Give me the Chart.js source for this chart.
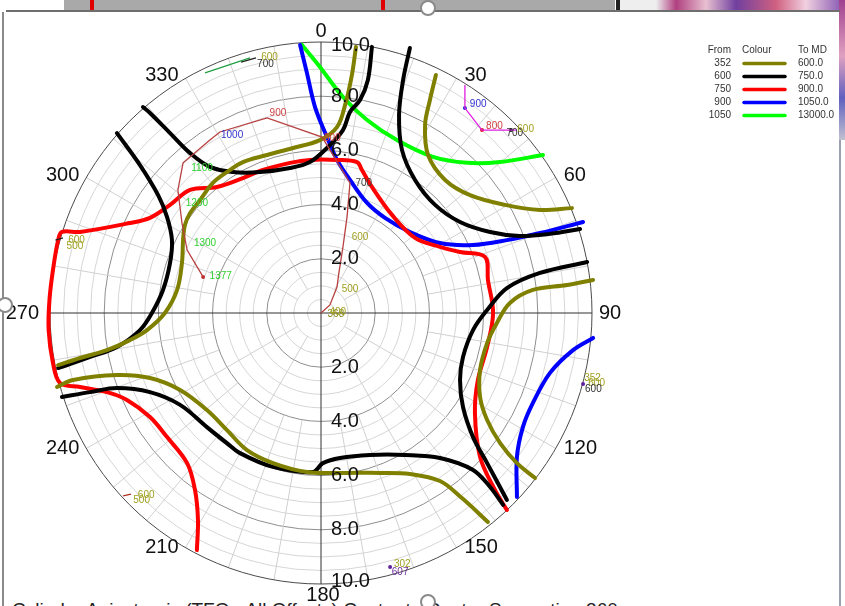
<!DOCTYPE html>
<html>
<head>
<meta charset="utf-8">
<title>Travelling Cylinder</title>
<script src="https://cdn.jsdelivr.net/npm/chart.js@4.4.1/dist/chart.umd.min.js"></script>
<style>
  body { margin: 0; width: 845px; height: 606px; overflow: hidden; background: #fff; position: relative;
         font-family: "Liberation Sans", Arial, sans-serif; }
  #strip { position: absolute; left: 64px; top: 0; width: 551px; height: 10px; background: #a9a9a9; }
  .mark { position: absolute; top: 0; width: 4px; height: 10px; background: #e00000; }
  #art { position: absolute; left: 616px; top: 0; width: 229px; height: 10px;
         background: linear-gradient(90deg, #222 0 4px, #eee 4px 40px, #b04080 60px, #e8c0d0 90px, #7040a0 120px, #d06080 160px, #f0d0e0 190px, #8050b0 229px); }
  #edge { position: absolute; left: 839px; top: 0; width: 6px; height: 140px;
          background: linear-gradient(180deg, #a04090, #e0a0c0 40%, #6060c0 70%, #c0c0d0); }
  #frameTop { position: absolute; left: 6px; top: 10px; width: 834px; height: 2px; background: #6e6e6e; }
  #frameLeft { position: absolute; left: 2px; top: 12px; width: 2px; height: 594px; background: #8a8a8a; }
  #frameRight { position: absolute; left: 839px; top: 140px; width: 2px; height: 466px; background: #9aa0b0; }
  .handle { position: absolute; width: 12px; height: 12px; border: 2px solid #8a8a8a; border-radius: 50%; background: #fff; }
  #caption { position: absolute; left: 12px; top: 599px; font-size: 19px; color: #222; white-space: nowrap; }
  canvas { position: absolute; left: 0; top: 0; }
</style>
</head>
<body>
<div id="strip"></div>
<div class="mark" style="left:90px"></div>
<div class="mark" style="left:381px"></div>
<div id="art"></div>
<div id="edge"></div>
<div id="frameTop"></div>
<div id="frameLeft"></div>
<div id="frameRight"></div>
<div id="caption">Cylinder Anisotropic (TFO - All Offsets) Centre to Centre Separation 360</div>
<canvas id="cylinderChart" width="845" height="606"></canvas>
<div class="handle" style="left:420px; top:0px"></div>
<div class="handle" style="left:-3px; top:297px"></div>
<div class="handle" style="left:420px; top:594px"></div>
<script>
  // Separation contours, [east, north] offsets in metres from the reference well
  const olive1 = [[1.29,9.82],[1.14,8.78],[0.89,7.68],[0.59,6.86],[-0.04,6.38],[-1.03,6.09],[-1.99,5.83],[-2.88,5.57],
    [-3.47,5.20],[-3.99,4.80],[-4.46,4.17],[-4.83,3.69],[-5.02,3.25],[-5.09,2.69],[-5.13,1.85],[-5.31,0.85],[-5.76,0],
    [-6.42,-0.63],[-7.05,-1.00],[-7.90,-1.37],[-8.89,-1.66],[-9.70,-1.92]];
  const olive2 = [[4.24,8.78],[4.02,7.86],[3.84,6.94],[3.95,5.83],[4.58,4.91],[5.50,4.35],[6.79,3.99],[8.08,3.80],[9.26,3.87]];
  const olive3 = [[10.04,1.22],[9.08,1.03],[7.82,0.85],[6.97,0.37],[6.49,-0.37],[6.13,-1.11],[5.87,-2.10],[5.87,-3.10],
    [6.13,-3.95],[6.61,-4.80],[7.23,-5.54],[7.90,-6.09]];
  const olive4 = [[-9.74,-2.73],[-9.15,-2.47],[-7.53,-2.29],[-6.31,-2.40],[-5.20,-2.84],[-4.21,-3.58],[-3.47,-4.32],
    [-2.73,-5.06],[-1.77,-5.54],[-0.52,-5.87],[0.70,-5.90],[2.18,-5.90],[3.28,-5.94],[4.39,-6.20],[5.20,-6.83],[6.16,-7.71]];
  const black1 = [[1.88,9.82],[1.73,8.60],[1.44,7.86],[1.07,7.42],[0.81,6.75],[0.22,6.09],[-0.41,5.57],[-1.14,5.35],
    [-2.25,5.20],[-3.25,5.20],[-4.10,5.39],[-4.83,5.90],[-5.57,6.64],[-6.31,7.38],[-6.57,7.60]];
  const black2 = [[-7.53,6.64],[-6.68,5.46],[-6.01,4.35],[-5.68,3.54],[-5.50,2.69],[-5.57,1.85],[-5.83,0.85],[-6.24,0],
    [-6.68,-0.63],[-7.53,-1.25],[-8.52,-1.62],[-9.70,-2.03]];
  const black3 = [[3.28,9.78],[3.03,8.60],[2.88,7.31],[2.99,6.01],[3.47,4.91],[4.21,3.99],[5.13,3.36],[6.24,2.99],
    [7.34,2.84],[8.45,2.92],[9.56,3.10]];
  const black4 = [[9.82,1.88],[8.08,1.48],[6.86,0.92],[6.13,0.11],[5.61,-0.63],[5.24,-1.62],[5.13,-2.47],[5.24,-3.47],
    [5.61,-4.58],[6.13,-5.54],[6.86,-6.90]];
  const black5 = [[-9.56,-3.10],[-8.52,-2.92],[-7.53,-2.77],[-6.31,-2.92],[-5.20,-3.39],[-4.21,-4.21],[-3.47,-4.80],
    [-2.99,-5.17],[-1.77,-5.68],[-0.30,-5.87],[0.07,-5.54],[0.70,-5.35],[1.81,-5.24],[3.10,-5.24],[4.39,-5.35],
    [5.61,-5.79],[6.24,-6.42],[6.72,-7.08]];
  const red1 = [[-4.58,-8.75],[-4.54,-7.64],[-4.65,-6.53],[-4.94,-5.54],[-5.68,-4.58],[-6.31,-3.84],[-7.16,-3.21],
    [-7.90,-2.92],[-8.89,-2.73],[-9.63,-2.58],[-9.89,-1.85],[-10.05,-0.63],[-10.02,0.48],[-9.89,1.59],[-9.70,2.69],
    [-9.56,2.99],[-8.89,2.99],[-7.05,3.32],[-6.31,3.51],[-5.57,3.99],[-4.83,4.54],[-3.84,4.65],[-2.88,4.98],[-2.14,5.28],
    [-1.14,5.54],[-0.41,5.65],[0.59,5.65],[1.33,5.57],[1.51,5.28],[1.88,4.65],[2.62,3.62],[3.47,2.77],[4.39,2.44],
    [5.13,2.25],[6.05,2.07],[6.16,1.22],[6.35,0],[6.13,-1.25],[5.79,-2.47],[5.68,-3.69],[5.87,-5.31],[6.42,-6.53],[6.86,-7.27]];
  const blue1 = [[-0.77,9.89],[-0.52,8.86],[-0.22,7.60],[0.22,6.49],[0.59,5.65],[1.07,4.91],[1.70,4.06],[2.36,3.51],
    [3.28,2.99],[4.39,2.58],[5.61,2.51],[6.86,2.69],[8.08,2.95],[9.67,3.36]];
  const blue2 = [[10.04,-0.92],[9.30,-1.37],[8.45,-2.21],[7.82,-3.32],[7.45,-4.21],[7.23,-5.31],[7.23,-6.79]];
  const green1 = [[-0.70,9.89],[-0.04,9.08],[0.81,7.97],[1.70,7.12],[2.80,6.38],[4.13,5.76],[5.39,5.54],[6.61,5.57],[8.19,5.83]];

  // Offset well traces near the reference well
  const wellPath = [[0,0],[0.33,0.30],[0.59,0.96],[0.66,1.48],[0.81,2.44],[0.96,3.54],[1.07,4.80],[0.04,6.49],
    [-1.99,7.20],[-3.73,6.68],[-4.10,6.38],[-5.09,5.54],[-5.28,4.54],[-5.13,3.32],[-4.94,2.32],[-4.35,1.33]];
  const magentaPath = [[5.31,8.41],[5.31,7.56],[5.94,6.75],[7.23,6.75]];
  const greenStub = [[-4.28,8.86],[-2.62,9.41]];
  const blackStubs = [[[-2.95,9.26],[-2.40,9.41]], [[-9.80,2.69],[-9.52,2.77]]];
  const redStub = [[-7.30,-6.75],[-7.01,-6.68]];

  const dots = [[5.31,7.56],[5.94,6.75],[7.01,6.75],[9.67,-2.62],[2.55,-9.37],[-4.35,1.33]];
  const dotColors = ['#2030d0','#e02020','#202020','#6020a0','#6020a0','#c03030'];

  // MD labels along the traces: text, east, north, colour
  const mdText = ['368','400','500','600','700','800','900','1000','1100','1200','1300','1377',
    '900','800','700','600','700','600','600','500','600','500','352','600','600','302','607'];
  const mdX = [0.55,0.62,1.07,1.44,1.58,0.42,-1.59,-3.28,-4.39,-4.58,-4.28,-3.70,
    5.80,6.40,7.15,7.55,-2.05,-1.90,-9.02,-9.08,-6.45,-6.62,10.02,10.17,10.05,3.00,2.92];
  const mdY = [-0.05,0.02,0.89,2.80,4.80,6.46,7.38,6.57,5.35,4.06,2.58,1.37,
    7.71,6.90,6.62,6.78,9.17,9.42,2.70,2.47,-6.72,-6.90,-2.40,-2.58,-2.80,-9.28,-9.55];
  const mdColor = ['#8a8a20','#a0a020','#a0a020','#a0a020','#404040','#d04040','#d04040','#3030d0','#30d030','#30d030','#30d030','#30d030',
    '#3030d0','#d04040','#303030','#a0a020','#303030','#a0a020','#a0a020','#a0a020','#a0a020','#a0a020','#a0a020','#a0a020','#303030','#a0a020','#7030a0'];

  // Ring and bearing ticks
  const ringValues = [2, 4, 6, 8, 10];
  const ringLabels = ['2.0', '4.0', '6.0', '8.0', '10.0'];
  const bearings = [0, 30, 60, 90, 120, 150, 180, 210, 240, 270, 300, 330];

  // Colour key: MD range per contour colour
  const keyFrom = ['352', '600', '750', '900', '1050'];
  const keyTo = ['600.0', '750.0', '900.0', '1050.0', '13000.0'];
  const keyColors = ['#808000', '#000000', '#ff0000', '#0000ff', '#00ff00'];

  const toXY = arr => arr.map(p => ({ x: p[0], y: p[1] }));

  function contour(arr, color) {
    return { data: toXY(arr), borderColor: color, borderWidth: 4, showLine: true, pointRadius: 0,
             tension: 0.35, clip: false, borderCapStyle: 'round' };
  }
  function trace(arr, color) {
    return { data: toXY(arr), borderColor: color, borderWidth: 1.3, showLine: true, pointRadius: 0, tension: 0, clip: false };
  }

  const cylinderGrid = {
    id: 'cylinderGrid',
    beforeDatasetsDraw(chart) {
      const { ctx, scales: { x, y } } = chart;
      const cx = x.getPixelForValue(0), cy = y.getPixelForValue(0);
      const rp = v => x.getPixelForValue(v) - cx;
      ctx.save();
      ctx.lineWidth = 1;
      for (let r = 0.5; r < 10; r += 0.5) {
        ctx.beginPath();
        ctx.arc(cx, cy, rp(r), 0, Math.PI * 2);
        ctx.strokeStyle = r % 2 === 0 ? '#8e8e8e' : '#d6d6d6';
        ctx.stroke();
      }
      for (let a = 0; a < 360; a += 10) {
        if (a % 90 === 0) continue;
        const r0 = a % 30 === 0 ? 1 : 4;
        const t = a * Math.PI / 180;
        ctx.beginPath();
        ctx.moveTo(cx + rp(r0) * Math.sin(t), cy - rp(r0) * Math.cos(t));
        ctx.lineTo(cx + rp(10) * Math.sin(t), cy - rp(10) * Math.cos(t));
        ctx.strokeStyle = '#d0d0d0';
        ctx.stroke();
      }
      ctx.beginPath();
      ctx.arc(cx, cy, rp(10), 0, Math.PI * 2);
      ctx.strokeStyle = '#4a4a4a';
      ctx.stroke();
      // north-south and east-west axes
      ctx.beginPath();
      ctx.moveTo(cx, y.getPixelForValue(10)); ctx.lineTo(cx, y.getPixelForValue(-10));
      ctx.moveTo(x.getPixelForValue(-10), cy); ctx.lineTo(x.getPixelForValue(10), cy);
      ctx.strokeStyle = '#303030';
      ctx.stroke();
      ctx.restore();
    },
    afterDatasetsDraw(chart) {
      const { ctx, scales: { x, y } } = chart;
      const cx = x.getPixelForValue(0), cy = y.getPixelForValue(0);
      const rp = v => x.getPixelForValue(v) - cx;
      ctx.save();

      // MD labels
      ctx.font = '10px "Liberation Sans", Arial, sans-serif';
      ctx.textAlign = 'center';
      ctx.textBaseline = 'middle';
      mdText.forEach((t, i) => {
        ctx.fillStyle = mdColor[i];
        ctx.fillText(t, x.getPixelForValue(mdX[i]), y.getPixelForValue(mdY[i]));
      });

      // ring distances along the vertical axis
      ctx.font = '20px "Liberation Sans", Arial, sans-serif';
      ctx.fillStyle = '#111';
      ctx.textAlign = 'left';
      ringValues.forEach((v, i) => {
        const inset = v === 10 ? 3 : 0;
        ctx.fillText(ringLabels[i], cx + 10, y.getPixelForValue(v) + inset);
        ctx.fillText(ringLabels[i], cx + 10, y.getPixelForValue(-v) - inset);
      });

      // bearings round the outside: anchored at the rim, pushed out sideways
      bearings.forEach(b => {
        const t = b * Math.PI / 180;
        const px = cx + rp(10) * Math.sin(t);
        const py = cy - rp(10) * Math.cos(t);
        const lift = (b < 90 || b > 270) ? 2.5 : 0;
        if (b === 0) {
          ctx.textAlign = 'center'; ctx.textBaseline = 'bottom';
          ctx.fillText(String(b), px, py - 1);
        } else if (b === 180) {
          ctx.textAlign = 'center'; ctx.textBaseline = 'top';
          ctx.fillText(String(b), px + 2, py + 1);
        } else if (b < 180) {
          ctx.textAlign = 'left'; ctx.textBaseline = 'middle';
          ctx.fillText(String(b), px + (b === 90 ? 7 : 8), py - lift);
        } else {
          ctx.textAlign = 'right'; ctx.textBaseline = 'middle';
          ctx.fillText(String(b), px - (b === 270 ? 11 : 7), py - lift);
        }
      });

      // colour key
      ctx.font = '10px "Liberation Sans", Arial, sans-serif';
      ctx.textBaseline = 'middle';
      ctx.fillStyle = '#333';
      ctx.textAlign = 'right';
      ctx.fillText('From', 731, 50);
      ctx.textAlign = 'left';
      ctx.fillText('Colour', 742, 50);
      ctx.fillText('To MD', 798, 50);
      keyFrom.forEach((f, i) => {
        const ry = 63.5 + i * 13;
        ctx.fillStyle = '#333';
        ctx.textAlign = 'right';
        ctx.fillText(f, 731, ry);
        ctx.textAlign = 'left';
        ctx.fillText(keyTo[i], 798, ry);
        ctx.beginPath();
        ctx.moveTo(744, ry); ctx.lineTo(785, ry);
        ctx.strokeStyle = keyColors[i];
        ctx.lineWidth = 3.5;
        ctx.lineCap = 'round';
        ctx.stroke();
      });
      ctx.restore();
    }
  };

  const ctx = document.getElementById('cylinderChart').getContext('2d');
  const cylinderChart = new Chart(ctx, {
    type: 'scatter',
    data: {
      datasets: [
        trace(wellPath, '#b84040'),
        trace(magentaPath, '#e020e0'),
        trace(greenStub, '#20a040'),
        trace(blackStubs[0], '#202020'),
        trace(blackStubs[1], '#202020'),
        trace(redStub, '#b03020'),
        contour(olive1, '#808000'),
        contour(olive2, '#808000'),
        contour(olive3, '#808000'),
        contour(olive4, '#808000'),
        contour(black1, '#000000'),
        contour(black2, '#000000'),
        contour(black3, '#000000'),
        contour(black4, '#000000'),
        contour(black5, '#000000'),
        contour(red1, '#ff0000'),
        contour(blue1, '#0000ff'),
        contour(blue2, '#0000ff'),
        contour(green1, '#00ff00'),
        { data: toXY(dots), pointRadius: 2, pointBackgroundColor: dotColors, pointBorderWidth: 0, showLine: false, clip: false }
      ]
    },
    options: {
      responsive: false,
      animation: false,
      layout: { padding: { left: 50, top: 42, right: 253, bottom: 22 } },
      scales: {
        x: { type: 'linear', min: -10, max: 10, display: false },
        y: { type: 'linear', min: -10, max: 10, display: false }
      },
      plugins: { legend: { display: false }, tooltip: { enabled: false } }
    },
    plugins: [cylinderGrid]
  });
</script>
</body>
</html>
